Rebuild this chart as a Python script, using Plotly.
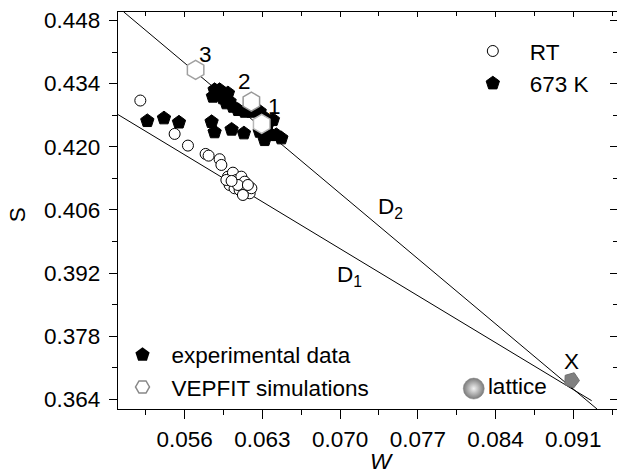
import plotly.graph_objects as go

# ---- data -------------------------------------------------------------
# room-temperature samples (open circles)
rt_w = [0.05201, 0.05510, 0.05630, 0.05789, 0.05816, 0.05915, 0.05931,
        0.05990, 0.06035, 0.06066, 0.06111, 0.06141, 0.06005, 0.06050,
        0.06095, 0.06156, 0.06186, 0.06201, 0.06125, 0.06080, 0.05976,
        0.06170, 0.06023]
rt_s = [0.43024, 0.42284, 0.42025, 0.41840, 0.41802, 0.41723, 0.41596,
        0.41336, 0.41425, 0.41263, 0.41336, 0.41225, 0.41152, 0.41079,
        0.41041, 0.41041, 0.40968, 0.41079, 0.40930, 0.41152, 0.41263,
        0.41152, 0.41241]

# samples annealed at 673 K (filled pentagons)
hot_w = [0.05264, 0.05414, 0.05549, 0.05843, 0.05870, 0.06023, 0.06134,
         0.05870, 0.05915, 0.05945, 0.05855, 0.05976, 0.06035, 0.06080,
         0.06005, 0.06141, 0.06201, 0.06276, 0.06305, 0.06336, 0.06276,
         0.06381, 0.06321, 0.06471, 0.06426, 0.06350, 0.06395, 0.05990,
         0.05915]
hot_s = [0.42573, 0.42633, 0.42540, 0.42551, 0.42324, 0.42382, 0.42300,
         0.43261, 0.43188, 0.43077, 0.43113, 0.42966, 0.42890, 0.42817,
         0.43001, 0.42779, 0.42779, 0.42779, 0.42668, 0.42411, 0.42335,
         0.42262, 0.42151, 0.42189, 0.42262, 0.42522, 0.42595, 0.43188,
         0.43261]

# VEPFIT simulated points 1, 2, 3
sim_w = [0.06294, 0.06201, 0.05699]
sim_s = [0.42506, 0.43001, 0.43705]
sim_labels = ["1", "2", "3"]

# characteristic point X and the defect-free lattice
x_w, x_s = [0.09084], [0.36822]
lat_w, lat_s = [0.08204], [0.36638]

# straight lines D1 and D2 (end points)
d1_w = [0.0500, 0.09266]
d1_s = [0.42713, 0.36369]
d2_w = [0.05051, 0.09314]
d2_s = [0.44990, 0.36185]

# axis ticks
x_tick0, x_dtick = 0.056, 0.007
y_tick0, y_dtick = 0.364, 0.014
x_range = [0.0500, 0.09494]
y_range = [0.36185, 0.44987]

FONT = "Liberation Sans, Arial, Helvetica, sans-serif"
FS = 22.5

fig = go.Figure()

# lines
for w, s in ((d1_w, d1_s), (d2_w, d2_s)):
    fig.add_trace(go.Scatter(x=w, y=s, mode="lines",
                             line=dict(color="black", width=1),
                             showlegend=False, hoverinfo="skip"))

fig.add_trace(go.Scatter(
    x=rt_w, y=rt_s, mode="markers", name="RT", legend="legend",
    marker=dict(symbol="circle", size=11, color="white",
                line=dict(color="black", width=1))))

fig.add_trace(go.Scatter(
    x=hot_w, y=hot_s, mode="markers", name="673 K", legend="legend",
    marker=dict(symbol="pentagon", size=14, color="black",
                line=dict(color="black", width=1))))

fig.add_trace(go.Scatter(
    x=sim_w, y=sim_s, mode="markers", showlegend=False,
    marker=dict(symbol="hexagon", size=19, color="white",
                line=dict(color=["#b8b8b8", "#999999", "#a0a0a0"], width=1.5))))

fig.add_trace(go.Scatter(
    x=x_w, y=x_s, mode="markers", showlegend=False,
    marker=dict(symbol="pentagon", size=16, color="#808080", angle=20,
                line=dict(color="#707070", width=1))))
fig.add_annotation(x=x_w[0], y=x_s[0], text="X", showarrow=False,
                   yshift=19, font=dict(family=FONT, size=FS, color="black"))

fig.add_trace(go.Scatter(
    x=lat_w, y=lat_s, mode="markers+text", text=["lattice"],
    textposition="middle right",
    textfont=dict(family=FONT, size=FS, color="black"), showlegend=False,
    marker=dict(symbol="circle", size=21, color="#7a7a7a",
                gradient=dict(type="radial", color="#f2f2f2"),
                line=dict(color="#808080", width=0.5))))

# entries of the lower-left key
fig.add_trace(go.Scatter(
    x=[None], y=[None], mode="markers", name="experimental data",
    legend="legend2",
    marker=dict(symbol="pentagon", size=15, color="black")))
fig.add_trace(go.Scatter(
    x=[None], y=[None], mode="markers", name="VEPFIT simulations",
    legend="legend2",
    marker=dict(symbol="hexagon2", size=14, color="white",
                line=dict(color="#888888", width=1.5))))

# carrier for the mirrored (inside) ticks on the top and right
fig.add_trace(go.Scatter(x=[None], y=[None], xaxis="x2", yaxis="y2",
                         showlegend=False, hoverinfo="skip"))

# numbers beside the simulated points
offsets = [(13, 17), (-7, 20), (10, 15)]
for w, s, lab, (dx, dy) in zip(sim_w, sim_s, sim_labels, offsets):
    fig.add_annotation(x=w, y=s, text=lab, showarrow=False,
                       xshift=dx, yshift=dy,
                       font=dict(family=FONT, size=FS, color="black"))

fig.add_annotation(x=0.06951, y=0.39131, text="D<sub>1</sub>", showarrow=False,
                   xanchor="left", yanchor="middle",
                   font=dict(family=FONT, size=FS, color="black"))
fig.add_annotation(x=0.07321, y=0.40650, text="D<sub>2</sub>", showarrow=False,
                   xanchor="left", yanchor="middle",
                   font=dict(family=FONT, size=FS, color="black"))

# axis titles
fig.add_annotation(xref="paper", yref="paper", x=0.529, y=-0.133,
                   xanchor="center", yanchor="middle",
                   text="<i>W</i>", showarrow=False,
                   font=dict(family=FONT, size=FS, color="black"))
fig.add_annotation(xref="paper", yref="paper", x=-0.201, y=0.49,
                   xanchor="center", yanchor="middle",
                   text="S", textangle=-90, showarrow=False,
                   font=dict(family=FONT, size=FS, color="black"))

axis_common = dict(showgrid=False, zeroline=False, tickcolor="black",
                   tickwidth=1.2, tickfont=dict(family=FONT, size=FS, color="black"))

fig.update_layout(
    width=617, height=473,
    margin=dict(l=118, r=0, t=12, b=64),
    paper_bgcolor="white", plot_bgcolor="white",
    font=dict(family=FONT, size=FS, color="black"),
    xaxis=dict(range=x_range, tick0=x_tick0, dtick=x_dtick, tickformat=".3f",
               ticks="outside", ticklen=9, showline=True, linecolor="black",
               linewidth=1.3, mirror=True, ticklabelstandoff=1,
               minor=dict(ticks="outside", ticklen=5, dtick=x_dtick / 2,
                          tick0=x_tick0 - x_dtick / 2, tickcolor="black",
                          tickwidth=1.2),
               **axis_common),
    yaxis=dict(range=y_range, tick0=y_tick0, dtick=y_dtick, tickformat=".3f",
               ticks="outside", ticklen=8, showline=True, linecolor="black",
               linewidth=1.3, ticklabelstandoff=4,
               minor=dict(ticks="outside", ticklen=5, dtick=y_dtick / 2,
                          tick0=y_tick0 - y_dtick / 2, tickcolor="black",
                          tickwidth=1.2),
               **axis_common),
    xaxis2=dict(overlaying="x", side="top", anchor="y", range=x_range,
                tick0=x_tick0, dtick=x_dtick, ticks="inside", ticklen=5,
                showticklabels=False, showline=False,
                minor=dict(ticks="inside", ticklen=4, dtick=x_dtick / 2,
                           tick0=x_tick0 - x_dtick / 2, tickcolor="black",
                           tickwidth=1.2),
                **axis_common),
    yaxis2=dict(overlaying="y", side="right", anchor="x", range=y_range,
                tick0=y_tick0, dtick=y_dtick, ticks="inside", ticklen=7,
                showticklabels=False, showline=False,
                minor=dict(ticks="inside", ticklen=4, dtick=y_dtick / 2,
                           tick0=y_tick0 - y_dtick / 2, tickcolor="black",
                           tickwidth=1.2),
                **axis_common),
    legend=dict(x=0.677, y=0.955, xanchor="left", yanchor="top",
                bgcolor="rgba(0,0,0,0)", itemwidth=64,
                font=dict(family=FONT, size=FS, color="black"),
                itemclick=False),
    legend2=dict(x=-0.009, y=0.19, xanchor="left", yanchor="top",
                 bgcolor="rgba(0,0,0,0)", itemwidth=48,
                 font=dict(family=FONT, size=FS, color="black"),
                 itemclick=False),
    showlegend=True,
)

fig.write_html("out.html")
